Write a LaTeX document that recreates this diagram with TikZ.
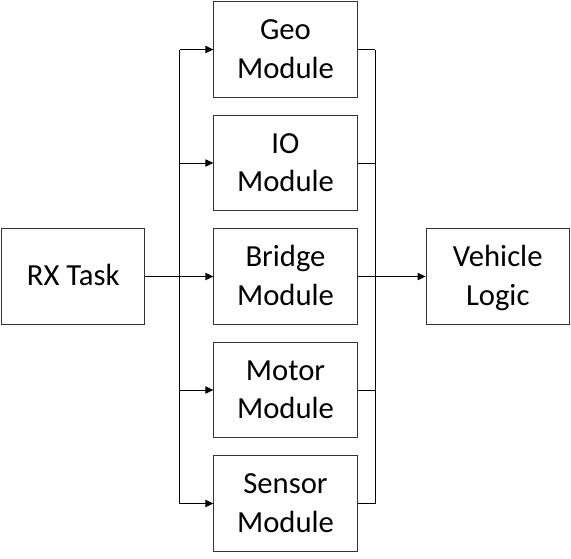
\documentclass[tikz,border=0pt]{standalone}
\usepackage{fontspec}
\setmainfont{Carlito}
\usetikzlibrary{arrows.meta}
\newcommand\tstrut{\rule{0pt}{22.7pt}}
\newcommand\bstrut{\rule[-8.6pt]{0pt}{8.6pt}}
\begin{document}
\begin{tikzpicture}[x=0.75pt,y=-0.75pt,
  box/.style={draw=black!80, line width=0.75pt, fill=white, minimum width=107.5pt, minimum height=71.5pt, inner sep=0pt, align=center, font=\fontsize{23}{28.7}\selectfont},
  conn/.style={draw=black, line width=0.75pt},
  arr/.style={conn, -{Triangle[length=6pt,width=5.5pt]}}]
\useasboundingbox (0,0) rectangle (571,558);
\node[box] (rx) at (73.25,276.5) {\tstrut RX Task\bstrut};
\node[box] (geo) at (285.5,49.5) {\tstrut Geo\\Module\bstrut};
\node[box] (io) at (285.5,163) {\tstrut IO\\Module\bstrut};
\node[box] (bridge) at (285.5,276.5) {\tstrut Bridge\\Module\bstrut};
\node[box] (motor) at (285.5,390) {\tstrut Motor\\Module\bstrut};
\node[box] (sensor) at (285.5,503.5) {\tstrut Sensor\\Module\bstrut};
\node[box] (veh) at (497.75,276.5) {\tstrut Vehicle\\Logic\bstrut};
\coordinate (lt) at (179.5,49.5);
\coordinate (lb) at (179.5,503.5);
\coordinate (rt) at (375,49.5);
\coordinate (rb) at (375,503.5);
% left distribution
\draw[conn] (lt) -- (lb);
\draw[arr] (rx.east) -- (bridge.west);
\draw[arr] (lt) -- (geo.west);
\draw[arr] (lt |- io.west) -- (io.west);
\draw[arr] (lt |- motor.west) -- (motor.west);
\draw[arr] (lb) -- (sensor.west);
% right collection
\draw[conn] (rt) -- (rb);
\draw[conn] (geo.east) -- (rt);
\draw[conn] (io.east) -- (io.east -| rt);
\draw[conn] (motor.east) -- (motor.east -| rt);
\draw[conn] (sensor.east) -- (rb);
\draw[arr] (bridge.east) -- (veh.west);
\end{tikzpicture}
\end{document}
